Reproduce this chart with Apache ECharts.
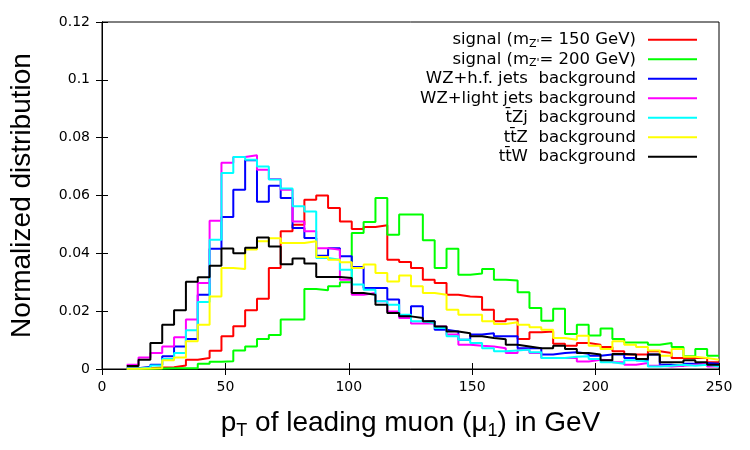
<!DOCTYPE html>
<html>
<head>
<meta charset="utf-8">
<script src="https://cdn.jsdelivr.net/npm/echarts@6/dist/echarts.min.js"></script>
<style>
  html, body { margin: 0; padding: 0; background: #fff; }
  #chart { width: 750px; height: 450px; }
</style>
</head>
<body>
<div id="chart"></div>
<script>
// histogram binning: 50 bins from 10 to 250 GeV
var binLow = 10;
var binWidth = 4.8;

// legend names (rich text)
var names = [
  "signal (m{s|Z'}= 150 GeV)",
  "signal (m{s|Z'}= 200 GeV)",
  'WZ+h.f. jets  background',
  'WZ+light jets background',
  't\u0304Zj  background',
  'tt\u0304Z  background',
  'tt\u0304W  background'
];
var colors = ['#ff0000', '#00ff00', '#0000ff', '#ff00ff', '#00ffff', '#ffff00', '#000000'];

// normalized values per bin
var sig150 = [0.0002,0.0003,0.0005,0.0006,0.0012,0.0032,0.0038,0.0063,0.0113,0.0148,
  0.0203,0.0243,0.0349,0.0476,0.0499,0.0585,0.0600,0.0557,0.0510,0.0484,
  0.0491,0.0497,0.0378,0.0370,0.0349,0.0309,0.0297,0.0257,0.0251,0.0249,
  0.0205,0.0165,0.0172,0.0104,0.0127,0.0130,0.0087,0.0080,0.0090,0.0084,
  0.0076,0.0061,0.0050,0.0050,0.0061,0.0055,0.0038,0.0038,0.0038,0.0023];
var sig200 = [0.0001,0.0001,0.0002,0.0003,0.0003,0.0003,0.0018,0.0025,0.0027,0.0064,
  0.0078,0.0104,0.0118,0.0171,0.0171,0.0277,0.0272,0.0286,0.0300,0.0470,
  0.0508,0.0591,0.0464,0.0534,0.0534,0.0445,0.0349,0.0416,0.0326,0.0330,
  0.0346,0.0309,0.0306,0.0265,0.0211,0.0167,0.0208,0.0121,0.0153,0.0116,
  0.0140,0.0104,0.0092,0.0092,0.0084,0.0090,0.0076,0.0044,0.0069,0.0046];
var wzHf = [0.0003,0.0008,0.0015,0.0044,0.0078,0.0104,0.0257,0.0416,0.0526,0.0620,
  0.0722,0.0578,0.0634,0.0591,0.0488,0.0453,0.0392,0.0418,0.0390,0.0353,
  0.0280,0.0280,0.0240,0.0184,0.0217,0.0165,0.0136,0.0130,0.0101,0.0119,
  0.0124,0.0113,0.0113,0.0072,0.0072,0.0050,0.0055,0.0058,0.0053,0.0046,
  0.0050,0.0050,0.0038,0.0030,0.0050,0.0015,0.0011,0.0018,0.0021,0.0018];
var wzLight = [0.0015,0.0040,0.0055,0.0078,0.0110,0.0171,0.0297,0.0513,0.0713,0.0733,
  0.0739,0.0689,0.0657,0.0620,0.0510,0.0476,0.0418,0.0412,0.0309,0.0257,
  0.0263,0.0234,0.0199,0.0176,0.0157,0.0157,0.0147,0.0119,0.0084,0.0080,
  0.0078,0.0072,0.0055,0.0067,0.0055,0.0038,0.0038,0.0038,0.0026,0.0032,
  0.0030,0.0023,0.0015,0.0021,0.0011,0.0009,0.0011,0.0015,0.0018,0.0009];
var tZj = [0.0002,0.0005,0.0012,0.0035,0.0055,0.0134,0.0232,0.0447,0.0678,0.0733,
  0.0724,0.0700,0.0655,0.0624,0.0563,0.0545,0.0384,0.0378,0.0343,0.0292,
  0.0274,0.0234,0.0222,0.0188,0.0165,0.0159,0.0142,0.0113,0.0101,0.0090,
  0.0072,0.0061,0.0064,0.0067,0.0058,0.0038,0.0038,0.0042,0.0044,0.0035,
  0.0023,0.0018,0.0030,0.0026,0.0009,0.0011,0.0015,0.0011,0.0015,0.0009];
var ttZ = [0.0001,0.0002,0.0003,0.0030,0.0040,0.0096,0.0153,0.0251,0.0349,0.0346,
  0.0413,0.0442,0.0452,0.0436,0.0436,0.0442,0.0387,0.0378,0.0369,0.0349,
  0.0361,0.0332,0.0303,0.0323,0.0286,0.0263,0.0257,0.0205,0.0188,0.0188,
  0.0165,0.0156,0.0162,0.0153,0.0144,0.0136,0.0107,0.0101,0.0115,0.0080,
  0.0069,0.0096,0.0084,0.0076,0.0064,0.0046,0.0069,0.0042,0.0038,0.0032];
var ttW = [0.0010,0.0032,0.0090,0.0153,0.0203,0.0302,0.0317,0.0357,0.0417,0.0400,
  0.0419,0.0455,0.0424,0.0362,0.0382,0.0365,0.0318,0.0318,0.0315,0.0263,
  0.0257,0.0222,0.0194,0.0182,0.0176,0.0165,0.0147,0.0130,0.0124,0.0113,
  0.0107,0.0103,0.0084,0.0078,0.0072,0.0072,0.0080,0.0069,0.0055,0.0050,
  0.0030,0.0052,0.0050,0.0035,0.0050,0.0023,0.0023,0.0030,0.0023,0.0015];

var allValues = [sig150, sig200, wzHf, wzLight, tZj, ttZ, ttW];

/*把每个bin变成台阶线的点*/
function toSteps(vals) {
  var pts = [];
  for (var i = 0; i < vals.length; i++) {
    pts.push([binLow + i * binWidth, vals[i]]);
  }
  pts.push([binLow + vals.length * binWidth, vals[vals.length - 1]]);
  return pts;
}

var series = [];
for (var k = 0; k < allValues.length; k++) {
  series.push({
    name: names[k],
    type: 'line',
    step: 'end',
    symbol: 'none',
    data: toSteps(allValues[k]),
    lineStyle: { color: colors[k], width: 2 },
    itemStyle: { color: colors[k] },
    xAxisIndex: 0,
    yAxisIndex: 0
  });
}

var tickFont = { fontFamily: 'DejaVu Sans', fontSize: 14, color: '#000' };

var option = {
  animation: false,
  backgroundColor: '#fff',
  grid: { left: 100, right: 31, top: 22, bottom: 81, show: true, borderColor: '#000', borderWidth: 1 },
  legend: {
    orient: 'vertical',
    right: 53,
    top: 30,
    padding: 0,
    align: 'right',
    icon: 'rect',
    itemWidth: 49,
    itemHeight: 2,
    itemGap: 0,
    formatter: function (n) { return '{a|' + n.replace(/\{s\|Z'\}/, "}{s|Z'}{a|") + '}'; },
    textStyle: {
      fontFamily: 'DejaVu Sans', fontSize: 16.5, lineHeight: 19.5, color: '#000', padding: [0, 7, 0, 0],
      rich: {
        a: { fontFamily: 'DejaVu Sans', fontSize: 16.5, lineHeight: 19.5, color: '#000' },
        s: { fontFamily: 'DejaVu Sans', fontSize: 11, lineHeight: 11, verticalAlign: 'bottom', color: '#000' }
      }
    },
    data: names
  },
  xAxis: [{
    type: 'value', min: 0, max: 250, interval: 50,
    axisLine: { show: true, lineStyle: { color: '#000', width: 1 } },
    axisTick: { show: true, inside: true, length: 6, lineStyle: { color: '#000' } },
    axisLabel: Object.assign({ margin: 11 }, tickFont),
    splitLine: { show: false },
    name: '{a|p}{s|T}{a| of leading muon (\u03bc}{s|1}{a|) in GeV}',
    nameLocation: 'middle',
    nameGap: 37,
    nameTextStyle: {
      rich: {
        a: { fontFamily: 'Liberation Sans', fontSize: 28, lineHeight: 34, color: '#000' },
        s: { fontFamily: 'Liberation Sans', fontSize: 18, lineHeight: 17, verticalAlign: 'bottom', color: '#000' }
      }
    }
  }, {
    type: 'value', min: 0, max: 250, interval: 50, position: 'top',
    axisLine: { show: true, lineStyle: { color: '#000' } },
    axisTick: { show: true, inside: true, length: 6, lineStyle: { color: '#000' } },
    axisLabel: { show: false },
    splitLine: { show: false }
  }],
  yAxis: [{
    type: 'value', min: 0, max: 0.12, interval: 0.02,
    axisLine: { show: true, lineStyle: { color: '#000', width: 1 } },
    axisTick: { show: true, inside: true, length: 6, lineStyle: { color: '#000' } },
    axisLabel: Object.assign({ margin: 12 }, tickFont),
    splitLine: { show: false },
    name: 'Normalized distribution',
    nameLocation: 'middle',
    nameGap: 66,
    nameTextStyle: { fontFamily: 'Liberation Sans', fontSize: 28, color: '#000' }
  }, {
    type: 'value', min: 0, max: 0.12, interval: 0.02, position: 'right',
    axisLine: { show: true, lineStyle: { color: '#000' } },
    axisTick: { show: true, inside: true, length: 6, lineStyle: { color: '#000' } },
    axisLabel: { show: false },
    splitLine: { show: false }
  }],
  series: series
};

var chart = echarts.init(document.getElementById('chart'), null, { renderer: 'canvas' });
chart.setOption(option);
</script>
</body>
</html>
